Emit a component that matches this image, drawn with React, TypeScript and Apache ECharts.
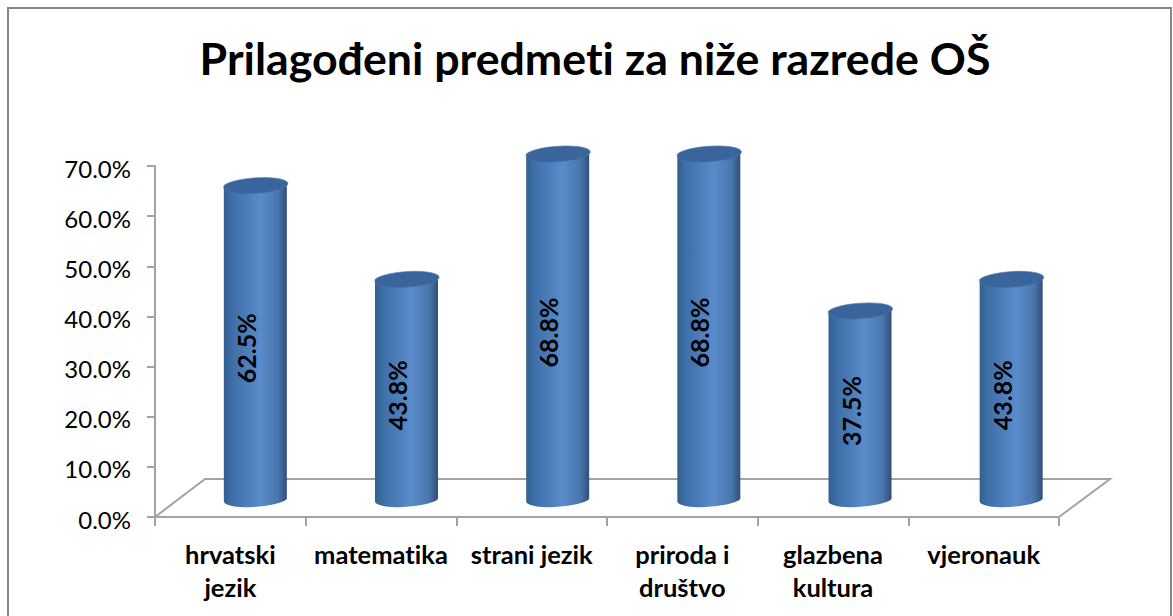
import React, { useEffect, useRef } from "react";
import * as echarts from "echarts";

const titleText = "Prilagođeni predmeti za niže razrede OŠ";
const categories = ["hrvatski\njezik", "matematika", "strani jezik", "priroda i\ndruštvo", "glazbena\nkultura", "vjeronauk"];
const shares = [62.5, 43.8, 68.8, 68.8, 37.5, 43.8];
const axisColor = "#a3a3a3";
const frameColor = "#868686";
const font = "Lato, Carlito, 'Open Sans', sans-serif";

const renderFloor = (_p: any, api: any) => {
  const o = api.coord([0, 0]);
  const band = api.size([1, 0])[0];
  const x0 = o[0] - band / 2;
  const x1 = x0 + band * categories.length;
  const y = o[1];
  return {
    type: "polyline",
    shape: { points: [[x0, y], [x0 + 50, y - 38], [x1 + 51, y - 38], [x1, y]] },
    style: { fill: "none", stroke: axisColor, lineWidth: 2 },
  };
};

const renderCylinder = (_p: any, api: any) => {
  const idx = api.value(0);
  const v = api.value(1);
  const base = api.coord([idx, 0]);
  const top = api.coord([idx, v]);
  const cx = base[0] + 25 + idx * 0.5;
  const yb = base[1] - 18;
  const yt = top[1] - 18;
  const rx = 32;
  const ry = 7.6;
  const tilt = 2.4;
  const rot = -4.3;
  const l = cx - rx + 0.5;
  const r = cx + rx - 0.5;
  const body =
    `M${l} ${yt + tilt}L${l} ${yb + tilt}A${rx} ${ry} ${rot} 0 0 ${r} ${yb - tilt}L${r} ${yt - tilt}Z`;
  const cap =
    `M${l} ${yt + tilt}A${rx} ${ry} ${rot} 0 0 ${r} ${yt - tilt}A${rx} ${ry} ${rot} 0 0 ${l} ${yt + tilt}Z`;
  return {
    type: "group",
    children: [
      {
        type: "path",
        shape: { pathData: body },
        style: {
          fill: new echarts.graphic.LinearGradient(0, 0, 1, 0, [
            { offset: 0, color: "#33608f" },
            { offset: 0.15, color: "#3f70ab" },
            { offset: 0.58, color: "#5a8bcb" },
            { offset: 0.86, color: "#4a76ac" },
            { offset: 1, color: "#2f4f78" },
          ]),
        },
      },
      {
        type: "path",
        shape: { pathData: cap },
        style: { fill: "#3a659c", stroke: "#4a76ad", lineWidth: 0.6 },
      },
      {
        type: "text",
        x: cx - 9.5,
        y: (yb + yt) / 2 + 6,
        rotation: Math.PI / 2,
        style: {
          text: `${v.toFixed(1)}%`,
          fill: "#000",
          font: `bold 25px ${font}`,
          align: "center",
          verticalAlign: "middle",
        },
      },
    ],
  };
};

export default function App() {
  const ref = useRef<HTMLDivElement>(null);
  useEffect(() => {
    document.body.style.margin = "0";
    document.body.style.background = "#fff";
    const chart = echarts.init(ref.current!, null, { renderer: "svg" });
    chart.setOption({
      animation: false,
      backgroundColor: "#fff",
      title: {
        text: titleText,
        left: 590,
        top: 30,
        textAlign: "center",
        textStyle: { fontFamily: font, fontSize: 44.7, fontWeight: "bold", color: "#000" },
      },
      graphic: [
        {
          type: "rect",
          silent: true,
          shape: { x: 8, y: 8, width: 1163, height: 640 },
          style: { fill: "none", stroke: frameColor, lineWidth: 2 },
        },
      ],
      grid: { left: 155, top: 166, width: 904, height: 351 },
      xAxis: {
        type: "category",
        data: categories,
        axisLine: { lineStyle: { color: axisColor, width: 2 } },
        axisTick: { show: true, alignWithLabel: false, length: 9, lineStyle: { color: axisColor, width: 2 } },
        axisLabel: {
          interval: 0,
          margin: 20,
          lineHeight: 33,
          fontFamily: font,
          fontSize: 25.5,
          fontWeight: "bold",
          color: "#000",
        },
      },
      yAxis: {
        type: "value",
        min: 0,
        max: 70,
        interval: 10,
        splitLine: { show: false },
        axisLine: { show: true, lineStyle: { color: axisColor, width: 2 } },
        axisTick: { show: true, length: 8, lineStyle: { color: axisColor, width: 2 } },
        axisLabel: {
          margin: 24,
          fontFamily: font,
          fontSize: 24,
          color: "#000",
          formatter: (v: number) => `{a|${v.toFixed(1)}%}`,
          rich: { a: { fontFamily: font, fontSize: 24, color: "#000", padding: [4, 0, 0, 0] } },
        },
      },
      series: [
        { type: "custom", z: 1, silent: true, renderItem: renderFloor, data: [[0, 0]] },
        {
          type: "custom",
          z: 2,
          renderItem: renderCylinder,
          encode: { x: 0, y: 1 },
          data: shares.map((v, i) => [i, v]),
        },
      ],
    });
    return () => chart.dispose();
  }, []);
  return <div ref={ref} style={{ width: 1173, height: 616, fontVariantLigatures: "none" }} />;
}
